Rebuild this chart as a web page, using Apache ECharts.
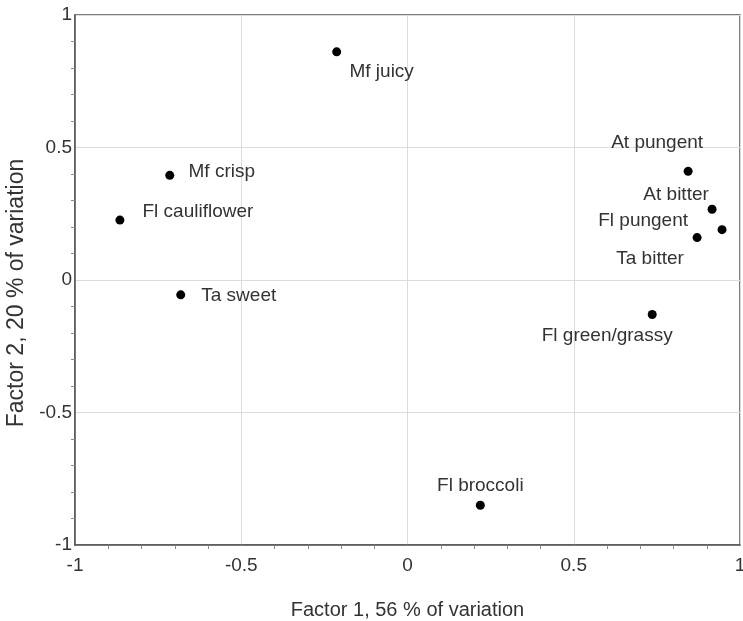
<!DOCTYPE html>
<html>
<head>
<meta charset="utf-8">
<script src="https://cdn.jsdelivr.net/npm/echarts@6/dist/echarts.min.js"></script>
<style>
  html, body { margin: 0; padding: 0; background: #fff; }
  #chart { width: 743px; height: 621px; }
</style>
</head>
<body>
<div id="chart"></div>
<script>
// Sensory attributes and their loadings on the first two factors
const attributes = ['Mf juicy', 'Mf crisp', 'Fl cauliflower', 'Ta sweet', 'At pungent',
  'At bitter', 'Fl pungent', 'Ta bitter', 'Fl green/grassy', 'Fl broccoli'];
const factor1 = [-0.213, -0.715, -0.865, -0.682, 0.844, 0.916, 0.871, 0.946, 0.736, 0.219];
const factor2 = [0.861, 0.395, 0.226, -0.056, 0.41, 0.267, 0.16, 0.19, -0.13, -0.85];
const axisTicks = [-1, -0.5, 0, 0.5, 1];

// Label placement around each point (pixels, text centre relative to the marker)
const labelOffsets = {
  'Mf juicy': [45, 20],
  'Mf crisp': [52, -4],
  'Fl cauliflower': [78, -8],
  'Ta sweet': [58, 1],
  'At pungent': [-31, -29],
  'At bitter': [-36, -14],
  'Fl pungent': [-54, -17],
  'Ta bitter': [-72, 29],
  'Fl green/grassy': [-45, 21],
  'Fl broccoli': [0, -19]
};

const points = attributes.map((name, i) => ({
  name,
  value: [factor1[i], factor2[i]],
  label: { offset: labelOffsets[name] }
}));

const fmt = v => String(v);
const textColor = '#333333';
const font = 'Liberation Sans, Arial, sans-serif';

const chart = echarts.init(document.getElementById('chart'), null, { renderer: 'canvas' });
chart.setOption({
  animation: false,
  backgroundColor: '#ffffff',
  grid: { left: 75, right: 3, top: 15, bottom: 76, containLabel: false,
    outerBoundsMode: 'none',
    show: true, borderColor: '#555', borderWidth: 1.5 },
  xAxis: {
    type: 'value', min: -1, max: 1, interval: 0.5,
    name: 'Factor 1, 56 % of variation', nameLocation: 'middle', nameGap: 55,
    nameTextStyle: { color: textColor, fontSize: 20, fontFamily: font },
    axisLine: { show: true, onZero: false, lineStyle: { color: '#555', width: 1.5 } },
    axisTick: { show: false },
    minorTick: { show: true, splitNumber: 5, length: 4, lineStyle: { color: '#888' } },
    axisLabel: { color: textColor, fontSize: 19, fontFamily: font, margin: 11,
      formatter: v => axisTicks.includes(v) ? fmt(v) : '' },
    splitLine: { show: true, lineStyle: { color: '#dcdcdc', width: 1 } }
  },
  yAxis: {
    type: 'value', min: -1, max: 1, interval: 0.5,
    name: 'Factor 2, 20 % of variation', nameLocation: 'middle', nameGap: 46, nameRotate: 90,
    nameTextStyle: { color: textColor, fontSize: 23, fontFamily: font, padding: [0, 26, 0, 0] },
    axisLine: { show: true, onZero: false, lineStyle: { color: '#555', width: 1.5 } },
    axisTick: { show: false },
    minorTick: { show: true, splitNumber: 5, length: 4, lineStyle: { color: '#888' } },
    axisLabel: { color: textColor, fontSize: 19, fontFamily: font, margin: 3,
      formatter: v => axisTicks.includes(v) ? fmt(v) : '' },
    splitLine: { show: true, lineStyle: { color: '#dcdcdc', width: 1 } }
  },
  series: [{
    type: 'scatter',
    data: points,
    symbol: 'circle',
    symbolSize: 9,
    itemStyle: { color: '#000', opacity: 1 },
    label: {
      show: true, position: 'inside',
      formatter: p => p.name,
      color: textColor, fontSize: 19, fontFamily: font
    }
  }]
});
</script>
</body>
</html>
